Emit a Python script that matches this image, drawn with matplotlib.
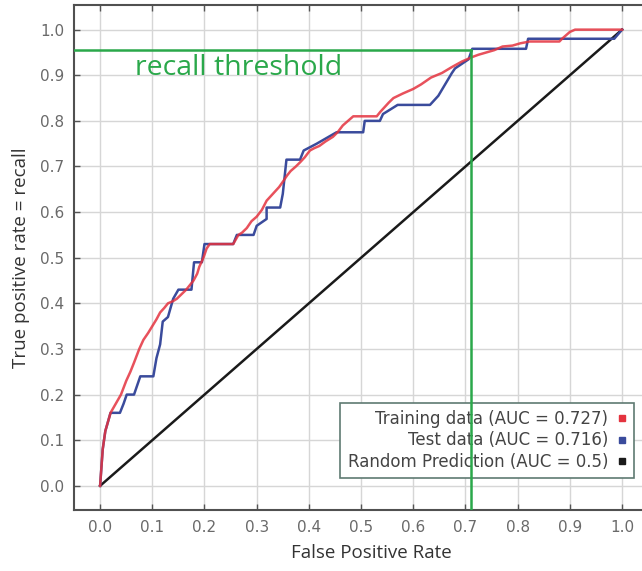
import matplotlib
matplotlib.use("Agg")
import matplotlib.pyplot as plt
from matplotlib.lines import Line2D

# ---- data ----
train_fpr = [0.0, 0.005, 0.01, 0.02, 0.03, 0.04, 0.05, 0.058, 0.065, 0.075, 0.083, 0.092, 0.1,
             0.108, 0.115, 0.123, 0.13, 0.14, 0.147, 0.156, 0.165, 0.172, 0.179, 0.186, 0.19,
             0.198, 0.204, 0.21, 0.255, 0.26, 0.265, 0.272, 0.281, 0.29, 0.3, 0.31, 0.319,
             0.327, 0.335, 0.343, 0.351, 0.358, 0.365, 0.375, 0.383, 0.392, 0.402, 0.41, 0.42,
             0.432, 0.446, 0.455, 0.465, 0.475, 0.485, 0.53, 0.537, 0.545, 0.553, 0.562, 0.58,
             0.6, 0.615, 0.634, 0.655, 0.674, 0.693, 0.713, 0.725, 0.74, 0.755, 0.771, 0.79,
             0.805, 0.823, 0.88, 0.885, 0.89, 0.9, 0.91, 1.0]
train_tpr = [0.0, 0.08, 0.12, 0.16, 0.18, 0.2, 0.23, 0.25, 0.27, 0.3, 0.32, 0.335, 0.35,
             0.365, 0.38, 0.39, 0.4, 0.405, 0.41, 0.42, 0.43, 0.44, 0.45, 0.465, 0.48,
             0.5, 0.52, 0.53, 0.53, 0.54, 0.55, 0.555, 0.565, 0.58, 0.59, 0.605, 0.625,
             0.635, 0.645, 0.655, 0.668, 0.68, 0.69, 0.7, 0.709, 0.72, 0.735, 0.74, 0.745,
             0.755, 0.765, 0.775, 0.79, 0.80, 0.81, 0.81, 0.82, 0.83, 0.84, 0.85, 0.86,
             0.87, 0.88, 0.895, 0.905, 0.918, 0.93, 0.94, 0.945, 0.95, 0.955, 0.963, 0.965,
             0.97, 0.974, 0.974, 0.98, 0.985, 0.995, 1.0, 1.0]

test_fpr = [0.0, 0.005, 0.01, 0.02, 0.038, 0.045, 0.051, 0.065, 0.077, 0.102, 0.108, 0.115,
            0.12, 0.13, 0.14, 0.15, 0.175, 0.18, 0.195, 0.2, 0.255, 0.262, 0.294, 0.3, 0.319,
            0.319, 0.345, 0.35, 0.357, 0.383, 0.39, 0.415, 0.453, 0.504, 0.507, 0.536, 0.542,
            0.57, 0.632, 0.648, 0.661, 0.674, 0.68, 0.706, 0.713, 0.816, 0.82, 0.985, 1.0]
test_tpr = [0.0, 0.08, 0.12, 0.16, 0.16, 0.18, 0.2, 0.2, 0.24, 0.24, 0.28, 0.31,
            0.36, 0.37, 0.41, 0.43, 0.43, 0.49, 0.49, 0.53, 0.53, 0.55, 0.55, 0.57, 0.585,
            0.61, 0.61, 0.64, 0.715, 0.715, 0.735, 0.75, 0.775, 0.775, 0.80, 0.80, 0.815,
            0.835, 0.835, 0.855, 0.88, 0.905, 0.915, 0.935, 0.958, 0.958, 0.98, 0.98, 1.0]

random_fpr = [0.0, 1.0]
random_tpr = [0.0, 1.0]

labels = ["Training data (AUC = 0.727)", "Test data (AUC = 0.716)",
          "Random Prediction (AUC = 0.5)"]
recall_threshold = 0.955
threshold_fpr = 0.71
ticks = [i / 10 for i in range(11)]
tick_labels = [f"{t:.1f}" for t in ticks]

RED = "#e4333f"
BLUE = "#3a4b9c"
BLACK = "#1a1a1a"
GREEN = "#2aa84a"
SANS = ["Open Sans", "DejaVu Sans"]

fig = plt.figure(figsize=(6.42, 5.71), dpi=100)
# the reference is cropped on the right: the axes box extends past the image edge
ax = fig.add_axes([74 / 642, 61 / 571, 594 / 642, 505 / 571])

ax.plot(random_fpr, random_tpr, color=BLACK, lw=1.8, zorder=3)
ax.plot(test_fpr, test_tpr, color=BLUE, lw=1.8, zorder=4)
ax.plot(train_fpr, train_tpr, color=RED, lw=1.8, alpha=0.85, zorder=5)

# threshold lines
ax.plot([-0.05, threshold_fpr], [recall_threshold, recall_threshold], color=GREEN, lw=1.8, zorder=6)
ax.plot([threshold_fpr, threshold_fpr], [recall_threshold, -0.06], color=GREEN, lw=1.8, zorder=6)
ax.text(0.067, 0.90, "recall threshold", color=GREEN, fontsize=20.5,
        family=SANS, va="baseline", ha="left", zorder=7)

ax.set_xlim(-0.05, 1.088)
ax.set_ylim(-0.053, 1.054)
ax.set_xticks(ticks)
ax.set_xticklabels(tick_labels)
ax.set_yticks(ticks)
ax.set_yticklabels(tick_labels)
ax.tick_params(direction="in", length=4, width=1, color="#555555",
               top=True, right=True, labelsize=11, labelcolor="#6a6a6a", pad=7)
ax.grid(True, color="#d6d6d6", lw=1)
ax.set_axisbelow(True)
for s in ax.spines.values():
    s.set_color("#505050")
    s.set_linewidth(1.5)

ax.set_xlabel("False Positive Rate", family=SANS, fontsize=13.5,
              color="#333333", labelpad=7)
ax.set_ylabel("True positive rate = recall", family=SANS, fontsize=13.5,
              color="#333333", labelpad=7)

handles = [Line2D([], [], ls="none", marker="s", markersize=4.5, color=c) for c in (RED, BLUE, BLACK)]
leg = ax.legend(handles, labels, loc="lower right", bbox_to_anchor=(0.943, 0.063),
                borderaxespad=0, markerfirst=False, fancybox=False, framealpha=1,
                edgecolor="#5f7a72", fontsize=12, handlelength=0.6, handletextpad=0.5,
                labelspacing=0.2, borderpad=0.45)
leg.get_frame().set_linewidth(1.2)
for t in leg.get_texts():
    t.set_color("#444444")

fig.savefig("out.png", dpi=100)
